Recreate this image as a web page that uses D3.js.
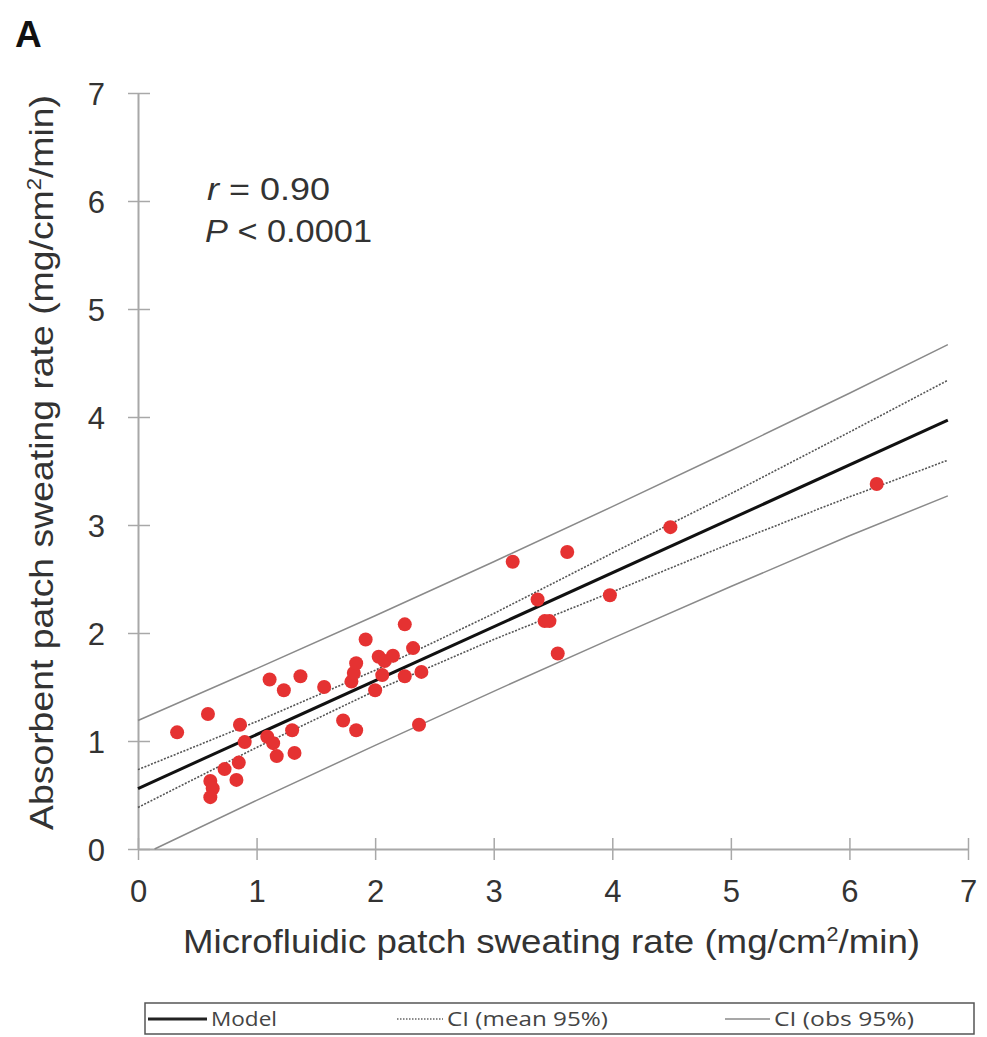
<!DOCTYPE html>
<html>
<head>
<meta charset="utf-8">
<script src="https://cdn.jsdelivr.net/npm/d3@7"></script>
<style>
  body { margin: 0; background: #fff; }
  svg { display: block; font-family: Arial, "Liberation Sans", sans-serif; }
</style>
</head>
<body>
<svg id="chart" width="987" height="1037"></svg>
<script>
// measured points (microfluidic x, absorbent y)
const pointsX = [0.33, 0.59, 0.61, 0.63, 0.61, 0.73, 0.83, 0.85, 0.86, 0.90,
  1.09, 1.11, 1.14, 1.17, 1.23, 1.30, 1.32, 1.37, 1.57, 1.73,
  1.80, 1.82, 1.84, 1.84, 1.92, 2.00, 2.03, 2.06, 2.08, 2.15,
  2.25, 2.25, 2.32, 2.37, 2.39, 3.16, 3.62, 3.37, 3.43, 3.47,
  3.54, 3.98, 4.49, 6.23];
const pointsY = [1.08, 1.25, 0.63, 0.56, 0.48, 0.74, 0.64, 0.80, 1.15, 0.99,
  1.04, 1.57, 0.98, 0.86, 1.47, 1.10, 0.89, 1.60, 1.50, 1.19,
  1.55, 1.63, 1.72, 1.10, 1.94, 1.47, 1.78, 1.61, 1.74, 1.79,
  2.08, 1.60, 1.86, 1.15, 1.64, 2.66, 2.75, 2.31, 2.11, 2.11,
  1.81, 2.35, 2.98, 3.38];

// fitted lines
const modelX = [0, 6.83];
const modelY = [0.56, 3.97];
const bandX = [0, 1, 2, 3, 4, 5, 6, 6.83];
const meanUpper = [0.735, 1.18, 1.655, 2.18, 2.74, 3.29, 3.86, 4.34];
const meanLower = [0.385, 0.94, 1.465, 1.94, 2.38, 2.83, 3.26, 3.60];
const obsUpperX = [0, 1, 2, 3, 4, 5, 6, 6.83];
const obsUpper = [1.19, 1.67, 2.16, 2.66, 3.17, 3.69, 4.22, 4.67];
const obsLowerX = [0.14, 1, 2, 3, 4, 5, 6, 6.83];
const obsLower = [0, 0.45, 0.96, 1.46, 1.95, 2.43, 2.90, 3.27];

const ticks = [0, 1, 2, 3, 4, 5, 6, 7];
const legendItems = ['Model', 'CI (mean 95%)', 'CI (obs 95%)'];

const svg = d3.select('#chart');
const plotLeft = 138, plotRight = 968, plotTop = 93, plotBottom = 849;

const x = d3.scaleLinear().domain([0, 7]).range([plotLeft, plotRight]);
const y = d3.scaleLinear().domain([0, 7]).range([plotBottom, plotTop]);

const axisColor = '#a8a8a8';
const textColor = '#333';

// axes
const xAxis = svg.append('g')
  .attr('transform', `translate(0,${plotBottom})`)
  .call(d3.axisBottom(x).tickValues(ticks).tickFormat(d3.format('d'))
    .tickSizeInner(11).tickSizeOuter(0).tickPadding(20));
const yAxis = svg.append('g')
  .attr('transform', `translate(${plotLeft},0)`)
  .call(d3.axisLeft(y).tickValues(ticks).tickFormat(d3.format('d'))
    .tickSizeInner(10).tickSizeOuter(0).tickPadding(23));

[xAxis, yAxis].forEach(g => {
  g.select('.domain').attr('stroke', axisColor).attr('stroke-width', 2);
  g.selectAll('.tick line').attr('stroke', axisColor).attr('stroke-width', 1.5);
  g.selectAll('.tick text').attr('fill', textColor).style('font-size', '31px');
});
// ticks cross the axis
xAxis.selectAll('.tick line').attr('y1', -11);
yAxis.selectAll('.tick line').attr('x1', 12).attr('x2', -10);
yAxis.selectAll('.tick text').attr('dy', '0.36em');

const line = d3.line().x(d => x(d[0])).y(d => y(d[1]));

function drawLine(xs, ys, stroke, width, dash) {
  svg.append('path')
    .datum(d3.zip(xs, ys))
    .attr('d', line)
    .attr('fill', 'none')
    .attr('stroke', stroke)
    .attr('stroke-width', width)
    .attr('stroke-dasharray', dash || null);
}

drawLine(obsUpperX, obsUpper, '#8a8a8a', 1.5);
drawLine(obsLowerX, obsLower, '#8a8a8a', 1.5);
drawLine(bandX, meanUpper, '#555', 1.6, '2,1.5');
drawLine(bandX, meanLower, '#555', 1.6, '2,1.5');
drawLine(modelX, modelY, '#111', 3);

// points
svg.append('g')
  .selectAll('circle')
  .data(d3.zip(pointsX, pointsY))
  .join('circle')
  .attr('cx', d => x(d[0]))
  .attr('cy', d => y(d[1]))
  .attr('r', 7)
  .attr('fill', '#e53232');

// axis titles
const titleHtml = (s) => s + ' (mg/cm<tspan dy="-12" font-size="20">2</tspan><tspan dy="12">/min)</tspan>';

svg.append('text')
  .attr('x', 183).attr('y', 953)
  .attr('fill', textColor)
  .attr('textLength', 737)
  .attr('lengthAdjust', 'spacingAndGlyphs')
  .style('font-size', '34px')
  .html(titleHtml('Microfluidic  patch sweating rate'));

svg.append('text')
  .attr('transform', 'translate(53,830) rotate(-90)')
  .attr('fill', textColor)
  .attr('textLength', 735)
  .attr('lengthAdjust', 'spacingAndGlyphs')
  .style('font-size', '34px')
  .html(titleHtml('Absorbent  patch sweating rate'));

// panel letter and stats
svg.append('text')
  .attr('x', 15).attr('y', 47)
  .attr('fill', '#111')
  .style('font-size', '37px')
  .style('font-weight', 'bold')
  .text('A');

svg.append('text')
  .attr('x', 207).attr('y', 200)
  .attr('fill', textColor)
  .attr('textLength', 123)
  .attr('lengthAdjust', 'spacingAndGlyphs')
  .style('font-size', '31px')
  .html('<tspan font-style="italic">r</tspan> = 0.90');
svg.append('text')
  .attr('x', 205).attr('y', 242)
  .attr('fill', textColor)
  .attr('textLength', 167)
  .attr('lengthAdjust', 'spacingAndGlyphs')
  .style('font-size', '31px')
  .html('<tspan font-style="italic">P</tspan> &lt; 0.0001');

// legend
const legend = svg.append('g');
legend.append('rect')
  .attr('x', 145).attr('y', 1003)
  .attr('width', 829).attr('height', 31)
  .attr('fill', '#fff')
  .attr('stroke', '#555')
  .attr('stroke-width', 1.5);

const legendLineX = [148, 397, 725];
const legendTextWidth = [66, 161, 140];
const legendStyles = [
  { stroke: '#222', width: 3, dash: null, len: 59 },
  { stroke: '#666', width: 1.5, dash: '1.5,1.5', len: 46 },
  { stroke: '#8a8a8a', width: 1.5, dash: null, len: 45 }
];
legendItems.forEach((label, i) => {
  const s = legendStyles[i];
  const lx = legendLineX[i];
  legend.append('line')
    .attr('x1', lx).attr('x2', lx + s.len)
    .attr('y1', 1019).attr('y2', 1019)
    .attr('stroke', s.stroke)
    .attr('stroke-width', s.width)
    .attr('stroke-dasharray', s.dash);
  legend.append('text')
    .attr('x', lx + s.len + 4).attr('y', 1026)
    .attr('fill', '#444')
    .attr('textLength', legendTextWidth[i])
    .attr('lengthAdjust', 'spacingAndGlyphs')
    .style('font-family', '"Liberation Sans Narrow", "Open Sans", sans-serif')
    .style('font-size', '20px')
    .text(label);
});
</script>
</body>
</html>
